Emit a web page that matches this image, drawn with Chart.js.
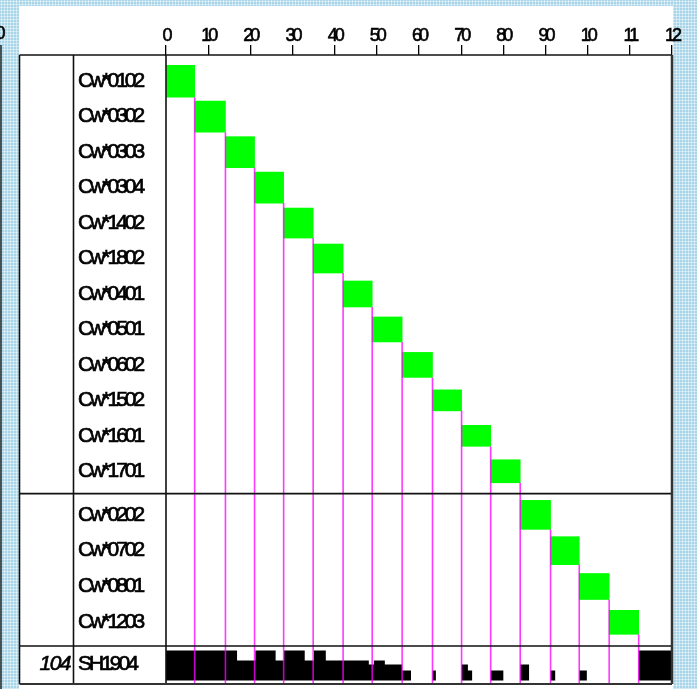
<!DOCTYPE html>
<html>
<head>
<meta charset="utf-8">
<script src="https://cdn.jsdelivr.net/npm/chart.js@4.4.1/dist/chart.umd.min.js"></script>
<style>
  html, body { margin: 0; padding: 0; }
  body {
    width: 697px; height: 689px; overflow: hidden;
    background-color: #a9d4e8;
    background-image: radial-gradient(circle, #dff1f9 0.9px, transparent 1.2px);
    background-size: 3px 3px;
  }
  canvas { display: block; }
</style>
</head>
<body>
<canvas id="chart" width="697" height="689"></canvas>
<script>
// ── DATA ──
const ALLELES = ['Cw*0102', 'Cw*0302', 'Cw*0303', 'Cw*0304', 'Cw*1402', 'Cw*1802',
                 'Cw*0401', 'Cw*0501', 'Cw*0602', 'Cw*1502', 'Cw*1601', 'Cw*1701',
                 'Cw*0202', 'Cw*0702', 'Cw*0801', 'Cw*1203'];
const ROW_POS   = [0, 1, 2, 3, 4, 5, 6, 7, 8, 9, 10, 11, 12.23, 13.24, 14.25, 15.26];
const BOX_START = [0, 6.8, 14.1, 21.0, 27.9, 34.9, 42.0, 48.9, 56.0, 63.2, 70.1, 77.0, 84.0, 91.2, 98.0, 105.1];
const BOX_END   = [6.8, 14.1, 21.0, 27.9, 34.9, 42.0, 48.9, 56.0, 63.2, 70.1, 77.0, 84.0, 91.2, 98.0, 105.1, 112.1];
const GROUP_BREAKS = [11.63, 15.93];

const LOCUS_NUM = '104';
const LOCUS_NAME = 'SH1904';
const LOCUS_ROW = 16.43;

// black profile of the SH1904 row (bin start, level)
const BIN_EDGES = [0, 16.85, 21.2, 26.0, 28.0, 32.9, 35.1, 37.9, 48.1, 49.3, 51.9, 56.0, 58.1,
                   63.2, 64.0, 70.1, 71.6, 72.6, 77.0, 80.0, 84.0, 86.1, 91.2, 92.3, 98.0, 99.8, 112.1, 120];
const BIN_LEVEL = [3, 2, 3, 2, 3, 2, 3, 2, 1.6, 2, 1.6, 1, 0,
                   1, 0, 1.6, 1, 0, 1, 0, 1.6, 0, 1, 0, 1, 0, 3, 3];

const X_TICKS = ['0', '10', '20', '30', '40', '50', '60', '70', '80', '90', '10', '11', '12'];
const Y_LABELS = [...ALLELES, LOCUS_NAME];

// ── STYLE ──
const BOX_PX = [32, 31, 31, 31, 30, 29, 26, 25, 25, 21, 21, 23, 29, 28, 26, 24];
const GREEN = '#00ff00';
const MAGENTA = 'rgba(255,0,255,0.78)';
const FONT = "'Liberation Sans', Arial, sans-serif";

const boxSets = ALLELES.map((name, i) => ({
  type: 'bar',
  label: name,
  indexAxis: 'y',
  xAxisID: 'x',
  yAxisID: 'y',
  data: [{ x: [BOX_START[i], BOX_END[i]], y: ROW_POS[i] }],
  backgroundColor: GREEN,
  borderWidth: 0,
  grouped: false,
  barPercentage: 1,
  categoryPercentage: 1,
  maxBarThickness: BOX_PX[i]
}));

const profileSet = {
  type: 'line',
  label: LOCUS_NAME,
  indexAxis: 'x',
  xAxisID: 'x',
  yAxisID: 'yH',
  data: BIN_EDGES.map((e, i) => ({ x: e, y: BIN_LEVEL[i] })),
  stepped: 'before',
  fill: { value: 0 },
  backgroundColor: '#000000',
  borderColor: 'rgba(0,0,0,0)',
  borderWidth: 0,
  pointRadius: 0
};

// ── FRAME / EXTRA TEXT ──
const framePlugin = {
  id: 'frame',
  beforeDraw(chart) {
    const ctx = chart.ctx;
    ctx.save();
    ctx.fillStyle = '#ffffff';
    ctx.fillRect(19, 6, 654, 683);
    ctx.restore();
    ctx.letterSpacing = '-3px';
  },
  afterDatasetsDraw(chart) {
    const { ctx, chartArea, scales } = chart;
    ctx.save();
    ctx.strokeStyle = MAGENTA;
    ctx.lineWidth = 1.6;
    BOX_END.forEach((end, i) => {
      const x = scales.x.getPixelForValue(end);
      const y0 = scales.y.getPixelForValue(ROW_POS[i]) + BOX_PX[i] / 2;
      ctx.beginPath();
      ctx.moveTo(x, y0);
      ctx.lineTo(x, chartArea.bottom);
      ctx.stroke();
    });
    ctx.restore();
  },
  afterDraw(chart) {
    const { ctx, chartArea, scales } = chart;
    const L = 19.5, C = 73.5, top = chartArea.top, bot = chartArea.bottom;
    ctx.save();
    ctx.strokeStyle = '#111';
    ctx.lineWidth = 1.6;
    const hline = (y) => { ctx.beginPath(); ctx.moveTo(L, y); ctx.lineTo(chartArea.right, y); ctx.stroke(); };
    const vline = (x) => { ctx.beginPath(); ctx.moveTo(x, top); ctx.lineTo(x, bot); ctx.stroke(); };
    hline(top);
    GROUP_BREAKS.forEach(v => hline(scales.y.getPixelForValue(v)));
    vline(L); vline(C); vline(chartArea.left);
    ctx.strokeStyle = '#333';
    ctx.lineWidth = 2;
    hline(bot);
    ctx.lineWidth = 2.5;
    vline(chartArea.right);

    // neighbouring panel edge
    ctx.strokeStyle = '#222';
    ctx.lineWidth = 1.5;
    ctx.beginPath(); ctx.moveTo(1, 45); ctx.lineTo(1, 689); ctx.stroke();
    ctx.fillStyle = '#000';
    ctx.strokeStyle = '#000';
    ctx.lineWidth = 0.6;
    ctx.font = '18px ' + FONT;
    ctx.textAlign = 'center';
    ctx.textBaseline = 'middle';
    ctx.fillText('0', -1, 34);
    ctx.strokeText('0', -1, 34);

    ctx.font = 'italic 21px ' + FONT;
    ctx.letterSpacing = '-1.5px';
    ctx.textAlign = 'right';
    const yl = scales.y.getPixelForValue(LOCUS_ROW);
    ctx.fillText(LOCUS_NUM, 70, yl);
    ctx.strokeText(LOCUS_NUM, 70, yl);
    ctx.restore();
  }
};

new Chart(document.getElementById('chart'), {
  type: 'bar',
  data: { datasets: [...boxSets, profileSet] },
  options: {
    responsive: false,
    animation: false,
    layout: { padding: { left: 78, right: 25, top: 0, bottom: 5 } },
    plugins: { legend: { display: false }, tooltip: { enabled: false } },
    scales: {
      x: {
        type: 'linear', position: 'top', min: 0, max: 120, offset: false,
        grid: { drawOnChartArea: false, drawTicks: true, tickLength: 10, color: '#000', lineWidth: 1.3, offset: false },
        border: { display: false },
        ticks: {
          stepSize: 10, autoSkip: false, maxRotation: 0, padding: -2,
          color: '#000', font: { family: FONT, size: 18 },
          textStrokeColor: '#000', textStrokeWidth: 0.6,
          callback: (v, i) => X_TICKS[i]
        },
        afterFit: s => { s.height = 55; s.paddingLeft = 0; s.paddingRight = 0; }
      },
      y: {
        type: 'linear', position: 'left', reverse: true, min: -0.74, max: 17.0, offset: false,
        grid: { display: false, offset: false },
        border: { display: false },
        ticks: {
          autoSkip: false, crossAlign: 'far', padding: 0,
          color: '#000', font: { family: FONT, size: 21 },
          textStrokeColor: '#000', textStrokeWidth: 0.7,
          callback: (v, i) => Y_LABELS[i]
        },
        afterBuildTicks: s => { s.ticks = [...ROW_POS, LOCUS_ROW].map(v => ({ value: v })); },
        afterFit: s => { s.width = 88; s.paddingTop = 0; s.paddingBottom = 0; }
      },
      yH: {
        type: 'linear', display: false, min: -0.35, max: 62.55, offset: false
      }
    }
  },
  plugins: [framePlugin]
});
</script>
</body>
</html>
